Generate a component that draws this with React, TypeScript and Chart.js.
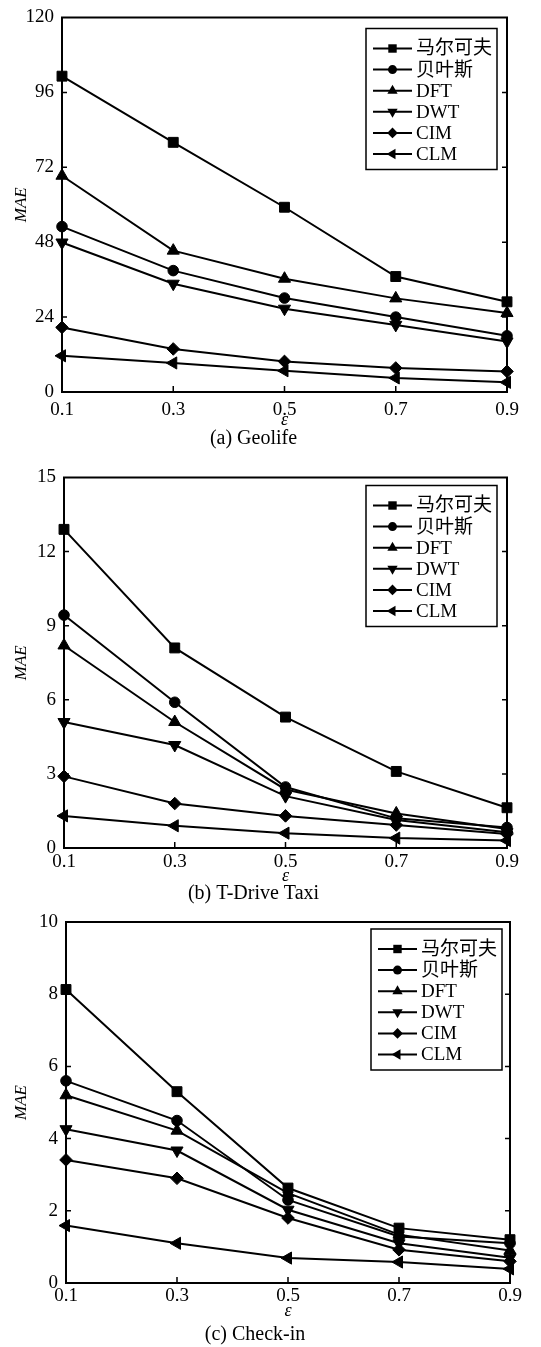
import React, { useEffect, useRef } from 'react';
import { Chart, registerables } from 'chart.js';
import { drawPoint } from 'chart.js/helpers';

Chart.register(...registerables);

// ---------- data ----------
const epsilons = ['0.1', '0.3', '0.5', '0.7', '0.9'];
const seriesNames = ['马尔可夫', '贝叶斯', 'DFT', 'DWT', 'CIM', 'CLM'];

const geolifeMarkov = [101.2, 80, 59.2, 37, 28.9];
const geolifeBayes = [53, 38.9, 30.1, 24, 18];
const geolifeDFT = [69.3, 45.3, 36.3, 30, 25.3];
const geolifeDWT = [47.9, 34.7, 26.7, 21.5, 16.2];
const geolifeCIM = [20.7, 13.8, 9.8, 7.7, 6.6];
const geolifeCLM = [11.6, 9.3, 6.8, 4.5, 3.1];

const tdriveMarkov = [12.9, 8.1, 5.3, 3.1, 1.63];
const tdriveBayes = [9.43, 5.9, 2.47, 1.2, 0.83];
const tdriveDFT = [8.2, 5.1, 2.37, 1.4, 0.77];
const tdriveDWT = [5.1, 4.17, 2.1, 1.13, 0.64];
const tdriveCIM = [2.9, 1.8, 1.3, 0.93, 0.57];
const tdriveCLM = [1.3, 0.9, 0.6, 0.4, 0.3];

const checkinMarkov = [8.13, 5.3, 2.63, 1.52, 1.2];
const checkinBayes = [5.6, 4.5, 2.3, 1.29, 1.1];
const checkinDFT = [5.2, 4.22, 2.49, 1.34, 0.9];
const checkinDWT = [4.26, 3.67, 2.03, 1.1, 0.7];
const checkinCIM = [3.41, 2.9, 1.8, 0.92, 0.6];
const checkinCLM = [1.59, 1.1, 0.69, 0.58, 0.39];

const yMaxes = [120, 15, 10];
const ySteps = [24, 3, 2];
const captions = ['(a) Geolife', '(b) T-Drive Taxi', '(c) Check-in'];
const yTitle = 'MAE';
const xTitle = 'ε';

// ---------- styles ----------
const SERIF = '"Liberation Serif", "Times New Roman", "Noto Sans CJK SC", serif';

const markerStyles = [
  { pointStyle: 'rect', rotation: 0, radius: 7 },
  { pointStyle: 'circle', rotation: 0, radius: 5.3 },
  { pointStyle: 'triangle', rotation: 0, radius: 7 },
  { pointStyle: 'triangle', rotation: 180, radius: 7 },
  { pointStyle: 'rectRot', rotation: 0, radius: 6.3 },
  { pointStyle: 'triangle', rotation: 270, radius: 7 },
];

const panelLayouts = [
  { top: 0, height: 460, left: 62, rightPad: 34, topPad: 15, xTickPad: 9, xH: 37.5, capPad: 1.5, bottomPad: 13, legendRight: 10, legendTop: 11 },
  { top: 460, height: 445, left: 64, rightPad: 34, topPad: 15, xTickPad: 4.5, xH: 37.5, capPad: 0, bottomPad: 3.5, legendRight: 10, legendTop: 8 },
  { top: 900, height: 447, left: 66, rightPad: 31, topPad: 22, xTickPad: 3.5, xH: 37.5, capPad: 6.5, bottomPad: 4, legendRight: 8, legendTop: 7 },
];

const framePlugin = {
  id: 'frame',
  beforeDatasetsDraw(chart: any) {
    const { ctx, chartArea, scales } = chart;
    const { left, top, right, bottom } = chartArea;
    const x = scales.x;
    const y = scales.y;
    ctx.save();
    ctx.strokeStyle = '#000';
    ctx.lineWidth = 2;
    ctx.strokeRect(left, top, right - left, bottom - top);
    ctx.lineWidth = 1.5;
    ctx.beginPath();
    y.ticks.forEach((t: any) => {
      const py = y.getPixelForValue(t.value);
      if (py <= top + 1 || py >= bottom - 1) return;
      ctx.moveTo(left, py);
      ctx.lineTo(left + 5, py);
      ctx.moveTo(right, py);
      ctx.lineTo(right - 5, py);
    });
    x.ticks.forEach((_t: any, i: number) => {
      const px = x.getPixelForTick(i);
      if (px <= left + 1 || px >= right - 1) return;
      ctx.moveTo(px, bottom);
      ctx.lineTo(px, bottom - 6);
    });
    ctx.stroke();
    ctx.restore();
  },
};

const boxLegendPlugin = {
  id: 'boxLegend',
  afterDatasetsDraw(chart: any, _args: any, opts: any) {
    const { ctx, chartArea } = chart;
    const w = 131;
    const h = 141;
    const bx = chartArea.right - opts.rightGap - w;
    const by = chartArea.top + opts.topGap;
    ctx.save();
    ctx.fillStyle = '#fff';
    ctx.fillRect(bx, by, w, h);
    ctx.strokeStyle = '#000';
    ctx.lineWidth = 1.5;
    ctx.strokeRect(bx, by, w, h);
    chart.data.datasets.forEach((ds: any, i: number) => {
      const cy = by + 20 + i * 21.1;
      ctx.strokeStyle = '#000';
      ctx.lineWidth = 2;
      ctx.beginPath();
      ctx.moveTo(bx + 7, cy);
      ctx.lineTo(bx + 46, cy);
      ctx.stroke();
      ctx.fillStyle = '#000';
      drawPoint(ctx, { pointStyle: ds.pointStyle, rotation: ds.pointRotation, radius: ds.pointRadius * 0.85, borderWidth: 0 } as any, bx + 26.5, cy);
      ctx.font = '19px ' + SERIF;
      ctx.textBaseline = 'middle';
      ctx.textAlign = 'left';
      ctx.fillStyle = '#000';
      ctx.fillText(ds.label, bx + 50, cy + 1);
    });
    ctx.restore();
  },
};

function Panel({ series, idx }: { series: number[][]; idx: number }) {
  const ref = useRef<HTMLCanvasElement>(null);
  const L = panelLayouts[idx];
  useEffect(() => {
    const chart = new Chart(ref.current as HTMLCanvasElement, {
      type: 'line',
      data: {
        labels: epsilons,
        datasets: series.map((d, i) => ({
          label: seriesNames[i],
          data: d,
          borderColor: '#000',
          backgroundColor: '#000',
          borderWidth: 2,
          tension: 0,
          pointStyle: markerStyles[i].pointStyle as any,
          pointRotation: markerStyles[i].rotation,
          pointRadius: markerStyles[i].radius,
          pointHoverRadius: markerStyles[i].radius,
          pointBackgroundColor: '#000',
          pointBorderColor: '#000',
          pointBorderWidth: 1,
          clip: false as any,
        })),
      },
      options: {
        responsive: false,
        maintainAspectRatio: false,
        animation: false,
        events: [],
        layout: { padding: { left: 0, top: L.topPad, right: L.rightPad, bottom: L.bottomPad } },
        plugins: {
          legend: { display: false },
          tooltip: { enabled: false },
          title: {
            display: true,
            text: captions[idx],
            position: 'bottom',
            color: '#000',
            font: { family: SERIF, size: 20, weight: 'normal', lineHeight: 0.8 },
            padding: { top: L.capPad, bottom: 0 },
          },
          boxLegend: { rightGap: L.legendRight, topGap: L.legendTop },
        } as any,
        scales: {
          x: {
            type: 'category',
            offset: false,
            grid: { display: false, drawTicks: false },
            border: { display: false },
            ticks: { color: '#000', font: { family: SERIF, size: 19, lineHeight: 1 }, padding: L.xTickPad, maxRotation: 0, autoSkip: false },
            title: { display: true, text: xTitle, color: '#000', font: { family: SERIF, size: 18, style: 'italic', lineHeight: 1 }, padding: { top: 0, bottom: 0 } },
            afterFit: (s: any) => { s.height = L.xH; },
          },
          y: {
            type: 'linear',
            min: 0,
            max: yMaxes[idx],
            grid: { display: false, drawTicks: false },
            border: { display: false },
            ticks: { stepSize: ySteps[idx], color: '#000', font: { family: SERIF, size: 19, lineHeight: 1 }, padding: 8 },
            title: { display: true, text: yTitle, color: '#000', font: { family: SERIF, size: 17, style: 'italic', lineHeight: 1 }, padding: { top: 13.5, bottom: 0 } },
            afterFit: (s: any) => { s.width = L.left; },
          },
        },
      } as any,
      plugins: [framePlugin, boxLegendPlugin],
    });
    return () => chart.destroy();
  }, []);
  return (
    <canvas
      ref={ref}
      width={541}
      height={L.height}
      style={{ position: 'absolute', left: 0, top: L.top, width: 541, height: L.height }}
    />
  );
}

export default function App() {
  const geolife = [geolifeMarkov, geolifeBayes, geolifeDFT, geolifeDWT, geolifeCIM, geolifeCLM];
  const tdrive = [tdriveMarkov, tdriveBayes, tdriveDFT, tdriveDWT, tdriveCIM, tdriveCLM];
  const checkin = [checkinMarkov, checkinBayes, checkinDFT, checkinDWT, checkinCIM, checkinCLM];
  return (
    <div style={{ position: 'absolute', left: 0, top: 0, width: 541, height: 1347, background: '#fff' }}>
      <Panel series={geolife} idx={0} />
      <Panel series={tdrive} idx={1} />
      <Panel series={checkin} idx={2} />
    </div>
  );
}
